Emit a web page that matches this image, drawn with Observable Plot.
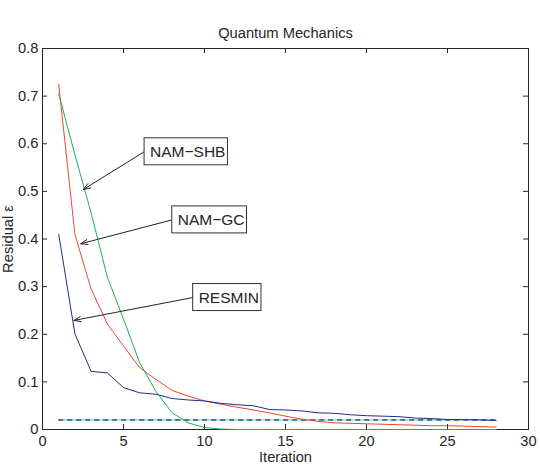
<!DOCTYPE html>
<html>
<head>
<meta charset="utf-8">
<script src="https://cdn.jsdelivr.net/npm/d3@7"></script>
<script src="https://cdn.jsdelivr.net/npm/@observablehq/plot@0.6"></script>
<style>
  body { margin: 0; background: #fff; }
  #chart svg { font-family: "Liberation Sans", Arial, Helvetica, sans-serif; }
</style>
</head>
<body>
<div id="chart"></div>
<script>
// Residual per iteration for three solvers on the quantum mechanics problem
const iterations = d3.range(1, 29);
const namShb = [0.705, 0.577, 0.455, 0.32, 0.232, 0.14, 0.08, 0.035, 0.014, 0.004,
                0.001, 0, 0, 0, 0, 0, 0, 0, 0, 0, 0, 0, 0, 0, 0, 0, 0, 0];
const namGc = [0.725, 0.41, 0.295, 0.222, 0.175, 0.13, 0.105, 0.082, 0.07, 0.06,
               0.053, 0.047, 0.041, 0.035, 0.028, 0.022, 0.017, 0.014, 0.013, 0.012,
               0.011, 0.010, 0.009, 0.008, 0.008, 0.007, 0.006, 0.005];
const resmin = [0.41, 0.201, 0.122, 0.119, 0.088, 0.077, 0.074, 0.065, 0.062, 0.06,
                0.055, 0.052, 0.050, 0.042, 0.041, 0.039, 0.035, 0.034, 0.031, 0.029,
                0.028, 0.027, 0.024, 0.023, 0.021, 0.021, 0.020, 0.019];
const tolerance = 0.02;

const xTicks = [0, 5, 10, 15, 20, 25, 30];
const yTicks = [0, 0.1, 0.2, 0.3, 0.4, 0.5, 0.6, 0.7, 0.8];

// Callouts: label, box anchor (left edge, vertical centre) and arrow tip, in data units
const annoLabels = ["NAM\u2212SHB", "NAM\u2212GC", "RESMIN"];
const annoBoxX = [6.27, 7.98, 9.27];
const annoBoxY = [0.583, 0.44, 0.277];
const annoTipX = [2.52, 2.36, 1.94];
const annoTipY = [0.504, 0.39, 0.229];

const series = (values) => iterations.map((it, i) => ({it, v: values[i]}));
const annos = annoLabels.map((label, i) => ({
  label, bx: annoBoxX[i], by: annoBoxY[i], tx: annoTipX[i], ty: annoTipY[i]
}));

const W = 540, H = 474;
const mL = 42, mR = 12, mT = 48, mB = 45;
const tick = 5;
const frameW = W - mL - mR, frameH = H - mT - mB;
const ink = "#262626";
const fs = 14.7;

const chart = Plot.plot({
  width: W, height: H,
  marginLeft: mL, marginRight: mR, marginTop: mT, marginBottom: mB,
  style: { fontSize: `${fs}px`, color: ink, background: "#fff" },
  x: { domain: [0, 30] },
  y: { domain: [0, 0.8] },
  marks: [
    Plot.axisX(xTicks, { tickSize: 0, tickPadding: 6, label: null, fontSize: fs }),
    Plot.axisY(yTicks, { tickSize: 0, tickPadding: 4, label: null, fontSize: fs,
                         tickFormat: d => d === 0 ? "0" : d.toFixed(1) }),
    // inward ticks on all four sides of the box
    Plot.tickX(xTicks, { x: d => d, insetTop: frameH - tick, stroke: ink }),
    Plot.tickX(xTicks, { x: d => d, insetBottom: frameH - tick, stroke: ink }),
    Plot.tickY(yTicks, { y: d => d, insetRight: frameW - tick, stroke: ink }),
    Plot.tickY(yTicks, { y: d => d, insetLeft: frameW - tick, stroke: ink }),
    Plot.frame({ stroke: ink }),
    // tolerance level
    Plot.ruleY([tolerance], { x1: iterations[0], x2: iterations[iterations.length - 1],
                              stroke: "#3ccfee", strokeWidth: 1 }),
    Plot.ruleY([tolerance], { x1: iterations[0], x2: iterations[iterations.length - 1],
                              stroke: "#111", strokeWidth: 1, strokeDasharray: "5,4" }),
    Plot.line(series(namGc), { x: "it", y: "v", stroke: "#f0442c", strokeWidth: 1 }),
    Plot.line(series(resmin), { x: "it", y: "v", stroke: "#1f2d8c", strokeWidth: 1 }),
    Plot.line(series(namShb), { x: "it", y: "v", stroke: "#17b15a", strokeWidth: 1 }),
    // callout arrows and labels
    Plot.arrow(annos, { x1: "bx", y1: "by", x2: "tx", y2: "ty", stroke: "#222",
                        strokeWidth: 1, headLength: 11, headAngle: 40 }),
    Plot.text(annos, { x: "bx", y: "by", text: "label", textAnchor: "start", dx: 6,
                       fontSize: 15.5, fill: ink, className: "anno" }),
    // title and axis labels
    Plot.text(["Quantum Mechanics"], { frameAnchor: "top", dy: -21, fontSize: fs, fill: ink }),
    Plot.text(["Iteration"], { frameAnchor: "bottom", dy: 32, fontSize: fs, fill: ink }),
    Plot.text(["Residual \u03b5"], { frameAnchor: "left", textAnchor: "middle", dx: -34,
                                     rotate: -90, fontSize: fs, fill: ink })
  ]
});

document.getElementById("chart").append(chart);

// Framed boxes behind the callout labels
d3.select(chart).selectAll("g.anno text").each(function () {
  const bb = this.getBBox();
  const t = this.getAttribute("transform");
  const rect = document.createElementNS("http://www.w3.org/2000/svg", "rect");
  rect.setAttribute("x", bb.x - 6);
  rect.setAttribute("y", bb.y + bb.height / 2 - 13.5);
  rect.setAttribute("width", bb.width + 8);
  rect.setAttribute("height", 27);
  rect.setAttribute("fill", "#fff");
  rect.setAttribute("stroke", "#333");
  rect.setAttribute("stroke-width", 1);
  if (t) rect.setAttribute("transform", t);
  this.parentNode.insertBefore(rect, this);
});
</script>
</body>
</html>
